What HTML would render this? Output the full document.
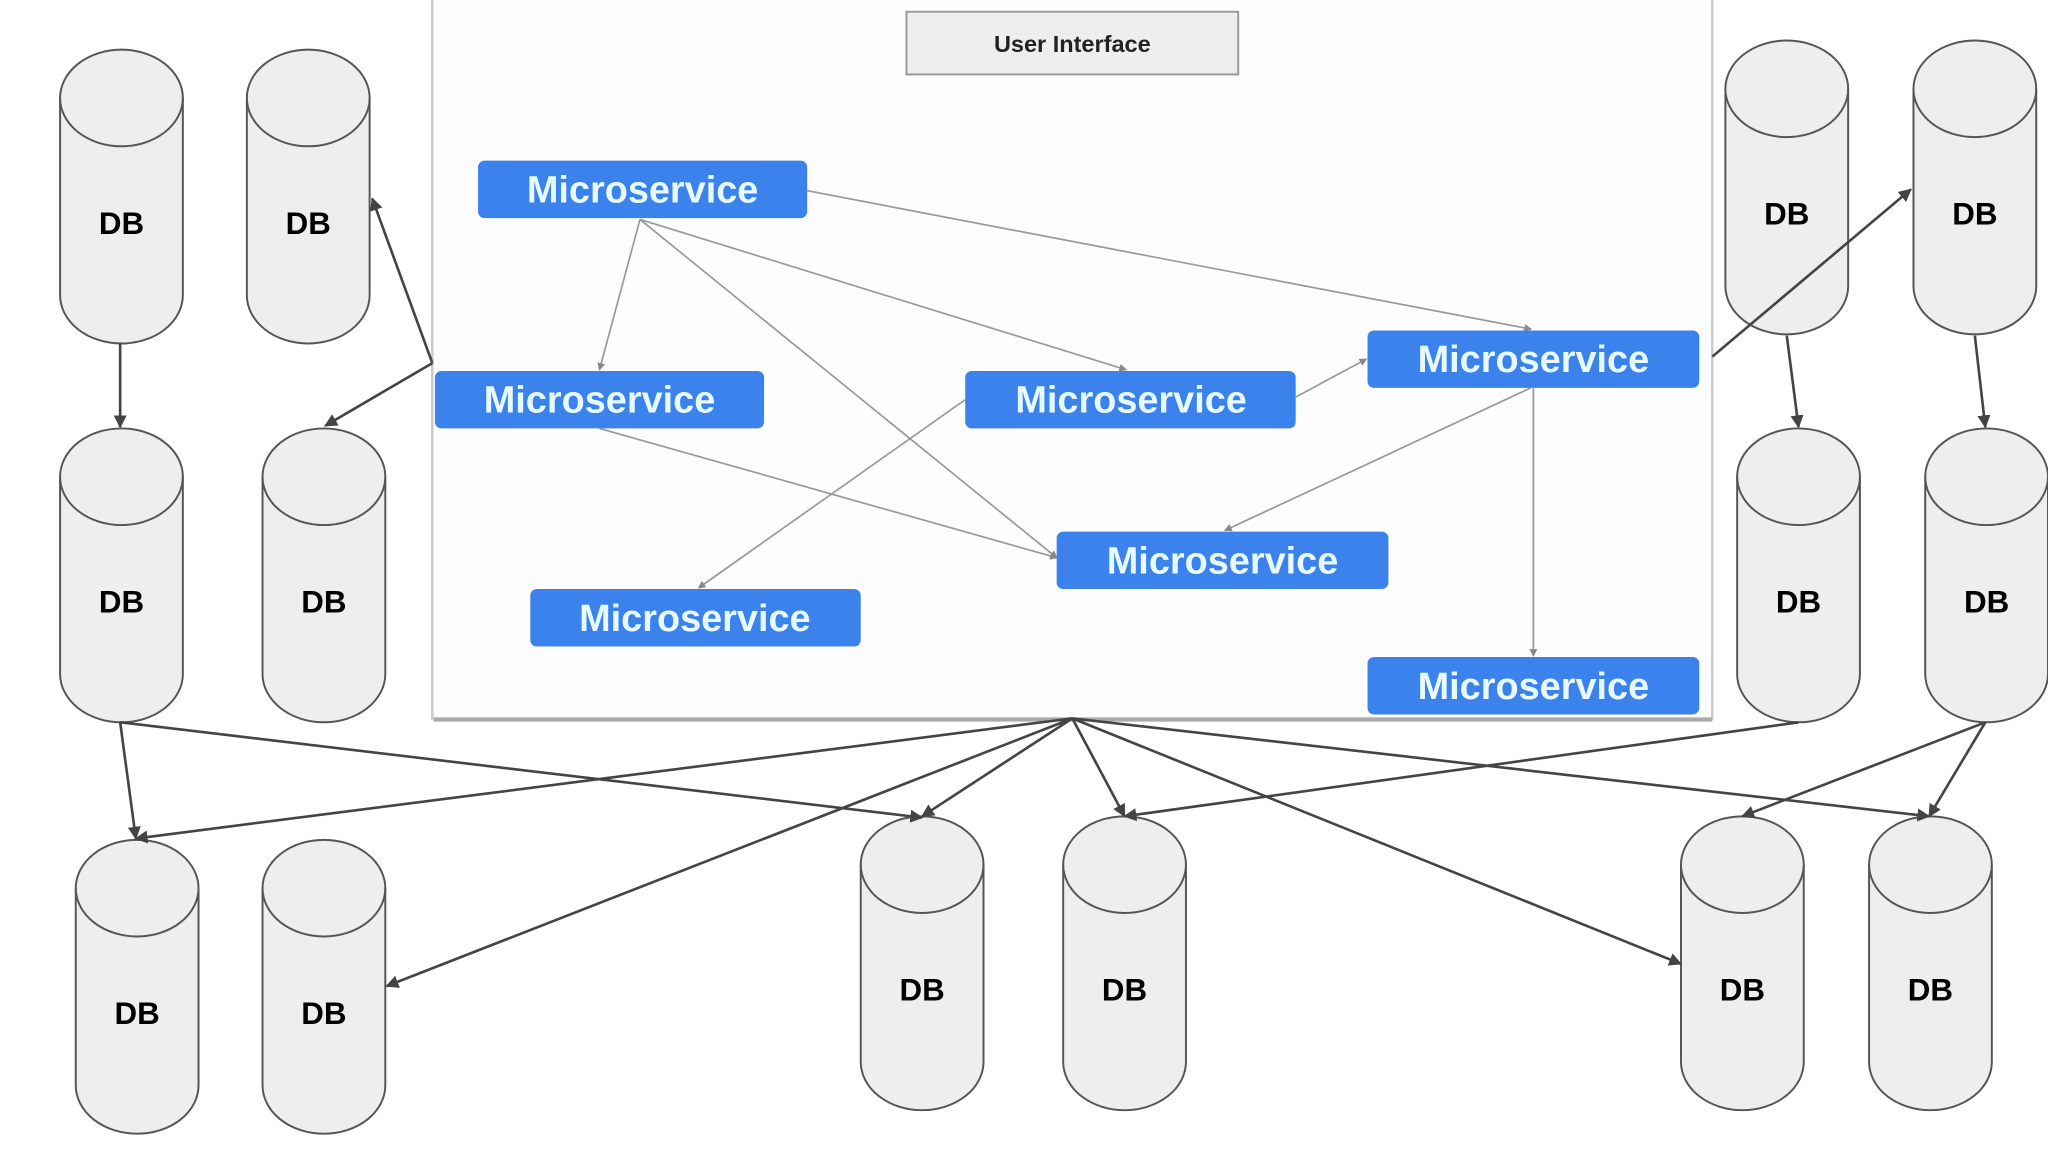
<!DOCTYPE html>
<html><head><meta charset="utf-8"><style>
html,body{margin:0;padding:0;background:#fff;}
svg{display:block;}
text{font-family:"Liberation Sans",Arial,sans-serif;font-weight:bold;}
</style></head><body>
<svg width="2048" height="1152" viewBox="0 0 1568 882" preserveAspectRatio="none" xmlns="http://www.w3.org/2000/svg">
<defs>
<marker id="ad" markerWidth="10" markerHeight="10" refX="9" refY="5" orient="auto" markerUnits="userSpaceOnUse"><path d="M0,0 L10,5 L0,10 z" fill="#444"/></marker>
<marker id="ag" markerWidth="6" markerHeight="6" refX="5" refY="3" orient="auto" markerUnits="userSpaceOnUse"><path d="M0,0 L6,3 L0,6 z" fill="#888"/></marker>
<g id="cyl">
<path d="M0,37 A47,37 0 0 1 94,37 L94,188 A47,37 0 0 1 0,188 Z" fill="#eeeeee" stroke="#555" stroke-width="1.5"/>
<path d="M0,37 A47,37 0 0 0 94,37" fill="none" stroke="#555" stroke-width="1.5"/>
<text x="47" y="141" font-size="24" text-anchor="middle" fill="#000">DB</text>
</g>
</defs>
<rect width="1568" height="882" fill="#fff"/>
<!-- panel -->
<rect x="331" y="-2" width="980" height="552" fill="#fdfdfd" stroke="#ccc" stroke-width="2"/>
<line x1="332" y1="551" x2="1311" y2="551" stroke="#aaa" stroke-width="3"/>
<rect x="694" y="9" width="254" height="48" fill="#eeeeee" stroke="#999" stroke-width="1.5"/>
<text x="821" y="40" font-size="18" text-anchor="middle" fill="#222">User Interface</text>
<!-- gray connectors -->
<g stroke="#999" stroke-width="1.3" fill="none" marker-end="url(#ag)">
<line x1="490" y1="168" x2="459" y2="283"/>
<line x1="490" y1="168" x2="809" y2="427"/>
<line x1="490" y1="168" x2="862" y2="283"/>
<line x1="618" y1="146" x2="1172" y2="252"/>
<line x1="459" y1="328" x2="809" y2="427"/>
<line x1="739" y1="306" x2="535" y2="450"/>
<line x1="992" y1="304" x2="1046" y2="275"/>
<line x1="1172" y1="297" x2="938" y2="406"/>
<line x1="1174" y1="297" x2="1174" y2="502"/>
</g>
<!-- microservices -->
<g font-size="29" fill="#dff6ff">
<rect x="366" y="123" width="252" height="44" rx="5" fill="#3c82ec"/>
<text x="492" y="155" text-anchor="middle" fill="#e6faff">Microservice</text>
<rect x="333" y="284" width="252" height="44" rx="5" fill="#3c82ec"/>
<text x="459" y="316" text-anchor="middle" fill="#e6faff">Microservice</text>
<rect x="739" y="284" width="253" height="44" rx="5" fill="#3c82ec"/>
<text x="866" y="316" text-anchor="middle" fill="#e6faff">Microservice</text>
<rect x="1047" y="253" width="254" height="44" rx="5" fill="#3c82ec"/>
<text x="1174" y="285" text-anchor="middle" fill="#e6faff">Microservice</text>
<rect x="809" y="407" width="254" height="44" rx="5" fill="#3c82ec"/>
<text x="936" y="439" text-anchor="middle" fill="#e6faff">Microservice</text>
<rect x="406" y="451" width="253" height="44" rx="5" fill="#3c82ec"/>
<text x="532" y="483" text-anchor="middle" fill="#e6faff">Microservice</text>
<rect x="1047" y="503" width="254" height="44" rx="5" fill="#3c82ec"/>
<text x="1174" y="535" text-anchor="middle" fill="#e6faff">Microservice</text>
</g>
<!-- DBs -->
<use href="#cyl" x="46" y="38"/>
<use href="#cyl" x="189" y="38"/>
<use href="#cyl" x="1321" y="31"/>
<use href="#cyl" x="1465" y="31"/>
<use href="#cyl" x="46" y="328"/>
<use href="#cyl" x="201" y="328"/>
<use href="#cyl" x="1330" y="328"/>
<use href="#cyl" x="1474" y="328"/>
<use href="#cyl" x="58" y="643"/>
<use href="#cyl" x="201" y="643"/>
<use href="#cyl" x="659" y="625"/>
<use href="#cyl" x="814" y="625"/>
<use href="#cyl" x="1287" y="625"/>
<use href="#cyl" x="1431" y="625"/>
<!-- dark connectors -->
<g stroke="#444" stroke-width="2" fill="none" marker-end="url(#ad)">
<line x1="92" y1="263" x2="92" y2="327"/>
<polyline points="331,278 285,152"/>
<polyline points="331,278 249,326"/>
<line x1="1311" y1="273" x2="1463" y2="145"/>
<line x1="1368" y1="257" x2="1377" y2="327"/>
<line x1="1512" y1="257" x2="1520" y2="327"/>
<line x1="92" y1="553" x2="104" y2="642"/>
<line x1="92" y1="553" x2="706" y2="626"/>
<line x1="821" y1="550" x2="104" y2="642"/>
<line x1="821" y1="550" x2="706" y2="625"/>
<line x1="821" y1="550" x2="861" y2="625"/>
<line x1="821" y1="550" x2="296" y2="755"/>
<line x1="821" y1="550" x2="1287" y2="738"/>
<line x1="821" y1="550" x2="1477" y2="625"/>
<line x1="1377" y1="553" x2="861" y2="625"/>
<line x1="1520" y1="553" x2="1334" y2="625"/>
<line x1="1520" y1="553" x2="1477" y2="625"/>
</g>
</svg>
</body></html>
